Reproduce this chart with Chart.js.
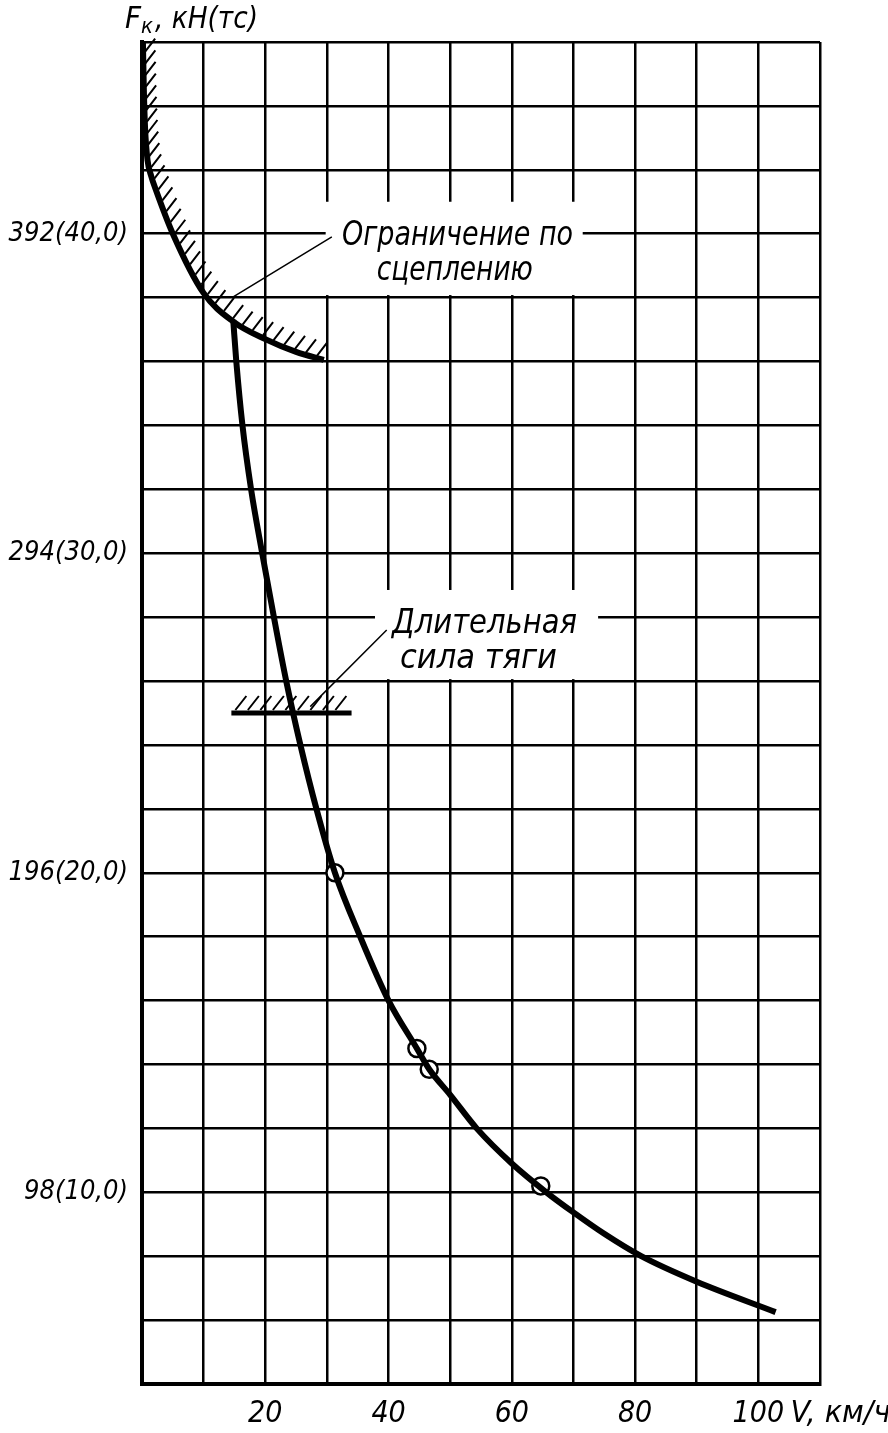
<!DOCTYPE html>
<html><head><meta charset="utf-8">
<script src="https://cdn.jsdelivr.net/npm/chart.js@4"></script>
<style>html,body{margin:0;padding:0;background:#fff}#wrap{width:888px;height:1433px;position:relative}</style>
</head><body><div id="wrap"><canvas id="c"></canvas></div>
<script>
// ---- data (speed V in km/h, force in tc; labels show kN(tc)) ----
const speedTicks = [20, 40, 60, 80, 100];
const forceTickValues = [10, 20, 30, 40];
const forceTickLabels = ['98(10,0)', '196(20,0)', '294(30,0)', '392(40,0)'];

const adhesionV = [0.15, 0.3, 0.5, 0.9, 1.5, 2.2, 5.0, 10.0, 14.8, 20.0, 25.0, 29.5];
const adhesionF = [46.0, 44.5, 43.3, 42.3, 41.8, 41.4, 40.0, 38.14, 37.25, 36.7, 36.3, 36.05];

const tractionV = [14.8, 15.3, 16.3, 17.7, 19.5, 21.4, 23.4, 25.7, 28.3, 31.3, 35.4, 40.0, 44.6, 46.6, 50.0, 54.3, 60.0, 65.6, 70.0, 75.0, 81.0, 90.0, 102.8];
const tractionF = [37.3, 36.0, 34.0, 32.0, 30.0, 28.0, 26.0, 24.0, 22.0, 20.0, 18.0, 16.0, 14.5, 13.85, 13.05, 12.0, 10.9, 10.0, 9.37, 8.7, 8.0, 7.2, 6.25];

const markerV = [31.3, 44.6, 46.6, 64.7];
const markerF = [20.0, 14.5, 13.85, 10.2];

const continuousV = [14.5, 34.0];
const continuousF = [25.0, 25.0];

const adhesionLeaderV = [30.8, 14.6];
const adhesionLeaderF = [39.9, 38.0];
const continuousLeaderV = [39.7, 27.3];
const continuousLeaderF = [27.6, 25.2];

const axisTitle = ['F', 'к', ', кН(тс)'];
const xAxisUnit = 'V, км/ч';
const adhesionLabel = ['Ограничение по', 'сцеплению'];
const continuousLabel = ['Длительная', 'сила тяги'];

// ---- rendering ----
const FONT = "'Liberation Sans Narrow','DejaVu Sans Condensed','Liberation Sans',sans-serif";
const pts = (xs, ys) => xs.map((x, i) => ({x, y: ys[i]}));

function fitText(ctx, text, x, y, width, size) {
  ctx.font = `italic ${size}px ${FONT}`;
  const w = ctx.measureText(text).width;
  ctx.save();
  ctx.translate(x, y);
  ctx.scale(width / w, 1);
  ctx.fillText(text, 0, 0);
  ctx.restore();
}

function sampleBezier(meta, step) {
  const els = meta.data;
  const out = [];
  let acc = 0;
  let prev = null;
  for (let i = 0; i < els.length - 1; i++) {
    const a = els[i], b = els[i + 1];
    const p0 = [a.x, a.y], p1 = [a.cp2x ?? a.x, a.cp2y ?? a.y], p2 = [b.cp1x ?? b.x, b.cp1y ?? b.y], p3 = [b.x, b.y];
    for (let t = 0; t <= 1; t += 0.005) {
      const u = 1 - t;
      const x = u*u*u*p0[0] + 3*u*u*t*p1[0] + 3*u*t*t*p2[0] + t*t*t*p3[0];
      const y = u*u*u*p0[1] + 3*u*u*t*p1[1] + 3*u*t*t*p2[1] + t*t*t*p3[1];
      if (prev) {
        acc += Math.hypot(x - prev[0], y - prev[1]);
        if (acc >= step) { out.push([x, y]); acc = 0; }
      }
      prev = [x, y];
    }
  }
  return out;
}

const decor = {
  id: 'decor',
  beforeDatasetsDraw(chart) {
    const {ctx, scales: {x, y}} = chart;
    ctx.save();
    ctx.fillStyle = '#fff';
    const box = (v0, v1, f0, f1) => {
      const X0 = x.getPixelForValue(v0), X1 = x.getPixelForValue(v1);
      const Y0 = y.getPixelForValue(f1), Y1 = y.getPixelForValue(f0);
      ctx.fillRect(X0, Y0, X1 - X0, Y1 - Y0);
    };
    box(29.8, 71.5, 38.08, 41.0);
    box(37.8, 74.0, 26.06, 28.85);
    ctx.restore();
  },
  afterDatasetsDraw(chart) {
    const {ctx, scales: {x, y}, chartArea} = chart;
    ctx.save();
    ctx.strokeStyle = '#000';
    ctx.fillStyle = '#000';
    // adhesion hatching
    ctx.lineWidth = 2;
    const meta = chart.getDatasetMeta(0);
    const hs = sampleBezier(meta, 11.5);
    ctx.beginPath();
    hs.forEach(([px, py]) => {
      if (py < chartArea.top + 1) return;
      ctx.moveTo(px + 2, py - 2);
      ctx.lineTo(px + 12, py - 15);
    });
    ctx.stroke();
    // continuous force hatching
    const cx0 = x.getPixelForValue(continuousV[0]), cx1 = x.getPixelForValue(continuousV[1]);
    const cy = y.getPixelForValue(continuousF[0]);
    ctx.beginPath();
    for (let px = cx0 + 4; px < cx1 - 4; px += 12.5) {
      ctx.moveTo(px, cy - 3);
      ctx.lineTo(px + 11, cy - 17);
    }
    ctx.stroke();
    // leaders
    ctx.lineWidth = 1.5;
    ctx.beginPath();
    ctx.moveTo(x.getPixelForValue(adhesionLeaderV[0]), y.getPixelForValue(adhesionLeaderF[0]));
    ctx.lineTo(x.getPixelForValue(adhesionLeaderV[1]), y.getPixelForValue(adhesionLeaderF[1]));
    ctx.moveTo(x.getPixelForValue(continuousLeaderV[0]), y.getPixelForValue(continuousLeaderF[0]));
    ctx.lineTo(x.getPixelForValue(continuousLeaderV[1]), y.getPixelForValue(continuousLeaderF[1]));
    ctx.stroke();
    // annotation texts
    ctx.textBaseline = 'alphabetic';
    ctx.textAlign = 'left';
    fitText(ctx, adhesionLabel[0], x.getPixelForValue(32.45), y.getPixelForValue(39.65), 231, 33);
    fitText(ctx, adhesionLabel[1], x.getPixelForValue(38.1), y.getPixelForValue(38.55), 156, 33);
    fitText(ctx, continuousLabel[0], x.getPixelForValue(40.56), y.getPixelForValue(27.5), 185, 33);
    fitText(ctx, continuousLabel[1], x.getPixelForValue(41.86), y.getPixelForValue(26.4), 157, 33);
    // axis title
    const tx = chartArea.left - 17, ty = chartArea.top - 14;
    ctx.font = `italic 31px ${FONT}`;
    ctx.fillText(axisTitle[0], tx, ty);
    let w = ctx.measureText(axisTitle[0]).width;
    ctx.font = `italic 22px ${FONT}`;
    ctx.fillText(axisTitle[1], tx + w, ty + 5);
    w += ctx.measureText(axisTitle[1]).width + 2;
    fitText(ctx, axisTitle[2], tx + w, ty, 258 - 125 - w, 31);
    // x-axis unit
    fitText(ctx, xAxisUnit, x.getPixelForValue(105.2), chartArea.bottom + 38, 100, 31);
    ctx.restore();
  }
};

new Chart(document.getElementById('c'), {
  type: 'line',
  data: {
    datasets: [
      {data: pts(adhesionV, adhesionF), borderColor: '#000', borderWidth: 6, pointRadius: 0, cubicInterpolationMode: 'monotone', fill: false},
      {data: pts(tractionV, tractionF), borderColor: '#000', borderWidth: 6, pointRadius: 0, cubicInterpolationMode: 'monotone', fill: false},
      {data: pts(continuousV, continuousF), borderColor: '#000', borderWidth: 5, pointRadius: 0, tension: 0, fill: false},
      {data: pts(markerV, markerF), showLine: false, pointRadius: 8.5, pointBackgroundColor: '#fff', pointBorderColor: '#000', pointBorderWidth: 2.5}
    ]
  },
  options: {
    responsive: true,
    maintainAspectRatio: false,
    animation: false,
    events: [],
    layout: {padding: {left: 0, top: 42, right: 68, bottom: 0}},
    plugins: {legend: {display: false}, tooltip: {enabled: false}, title: {display: false}},
    scales: {
      x: {
        type: 'linear', min: 0, max: 110,
        afterFit(s) { s.height = 49; },
        grid: {color: '#000', lineWidth: 2.5, drawTicks: false},
        border: {display: true, color: '#000', width: 4},
        ticks: {
          stepSize: 10, autoSkip: false, maxRotation: 0, padding: 12, color: '#000',
          font: {family: FONT, size: 30, style: 'italic'},
          callback: v => speedTicks.includes(v) ? String(v) : ''
        }
      },
      y: {
        type: 'linear', min: 4, max: 46,
        afterFit(s) { s.width = 142; },
        grid: {color: '#000', lineWidth: 2.5, drawTicks: false},
        border: {display: true, color: '#000', width: 4},
        ticks: {
          stepSize: 2, autoSkip: false, padding: 14, color: '#000',
          font: {family: FONT, size: 27, style: 'italic'},
          callback: v => { const i = forceTickValues.indexOf(v); return i >= 0 ? forceTickLabels[i] : ''; }
        }
      }
    }
  },
  plugins: [decor]
});
</script>
</body></html>
